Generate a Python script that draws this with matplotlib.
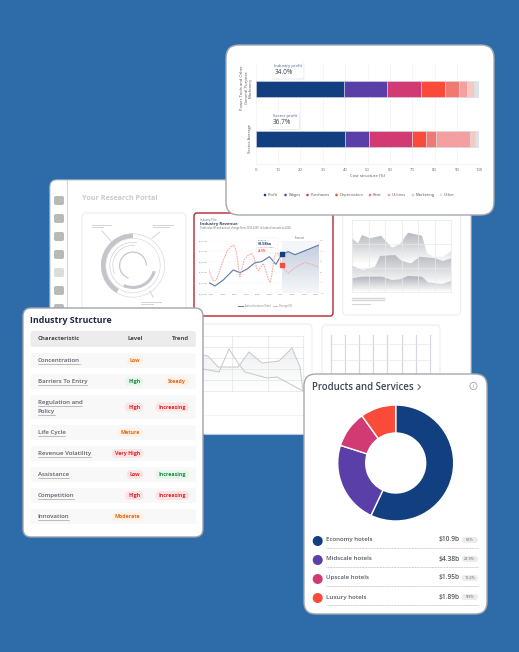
import matplotlib
matplotlib.use("Agg")
import matplotlib.pyplot as plt
import numpy as np
from matplotlib.patches import FancyBboxPatch, Polygon, Wedge, Circle

plt.rcParams['font.family'] = ['Open Sans', 'DejaVu Sans']

W, H = 519, 652

# --- data ---
NAVY, PURPLE, MAGENTA, RED = '#123f7f', '#5a3fa8', '#d13a72', '#f94a3a'
cost_names = ['Profit', 'Wages', 'Purchases', 'Depreciation', 'Rent', 'Utilities', 'Marketing', 'Other']
cost_colors = [NAVY, PURPLE, MAGENTA, RED, '#f07a72', '#f4a0a0', '#f8c8bc', '#dbe2e8']
cost_industry = [39.7, 19.2, 15.0, 10.6, 6.2, 4.0, 3.0, 1.8]
cost_sector = [39.8, 10.8, 19.4, 6.0, 4.5, 15.2, 2.6, 1.7]
cost_rows = ['Sector Average', 'Power Tools and Other\nGeneral Purpose\nMachinery']

product_names = ['Economy hotels', 'Midscale hotels', 'Upscale hotels', 'Luxury hotels']
product_values = [10.9, 4.38, 1.95, 1.89]
product_labels = ['$10.9b', '$4.38b', '$1.95b', '$1.89b']
product_shares = ['57%', '22.9%', '10.2%', '9.9%']
product_colors = [NAVY, PURPLE, MAGENTA, RED]

table_names = ['Concentration', 'Barriers To Entry', 'Regulation and\nPolicy', 'Life Cycle',
               'Revenue Volatility', 'Assistance', 'Competition', 'Innovation']
table_levels = ['Low', 'High', 'High', 'Mature', 'Very High', 'Low', 'High', 'Moderate']
table_level_tones = ['o', 'g', 'r', 'o', 'r', 'r', 'r', 'o']
table_trends = ['', 'Steady', 'Increasing', '', '', 'Increasing', 'Increasing', '']
table_trend_tones = ['', 'o', 'r', '', '', 'g', 'r', '']
table_tops = [353, 374, 395, 425, 446, 467, 488, 509]
table_bottoms = [368, 389, 419, 440, 461, 482, 503, 524]

rev_years = [2020.77, 2021.29, 2022.01, 2022.87, 2023.45, 2024.03, 2024.75, 2025.32, 2025.99, 2026.56,
             2027.05, 2027.62, 2028.2, 2028.93, 2030.28]
rev_values = [1101, 1070, 1127, 1222, 1196, 1228, 1291, 1301, 1348, 1275, 1370, 1396, 1367, 1399, 1459]
chg_years = [2020.77, 2020.91, 2021.14, 2021.37, 2021.66, 2022.01, 2022.35, 2022.73, 2022.96, 2023.16, 2023.33,
             2023.45, 2023.59, 2023.80, 2024.08, 2024.46, 2024.69, 2024.89, 2025.06, 2025.27, 2025.47, 2025.67,
             2025.90, 2026.07, 2026.22, 2026.39, 2026.56, 2026.79, 2027.05, 2027.31, 2027.63, 2028.0, 2028.35,
             2029.07, 2029.65, 2030.28]
chg_values = [1.1, -1.3, -4.0, -4.0, 0.3, 5.8, 10.3, 12.5, 12.9, 9.0, 1.9,
              -2.1, 1.1, 5.8, 7.7, 9.0, 6.6, 1.9, 0.8, 2.7, 4.2, 1.1,
              -3.7, -4.9, -0.5, 6.6, 9.0, 8.7, 3.4, 1.1, -0.5, 1.4, 2.7,
              4.6, 3.8, 2.2]
rev_ticks = [1000, 1100, 1200, 1300, 1400, 1500]
rev_ticklabels = ['$1,000m', '$1,100m', '$1,200m', '$1,300m', '$1,400m', '$1,500m']
chg_ticks = [-10, -5, 0, 5, 10, 15]
chg_ticklabels = ['-10%', '-5%', '0%', '5%', '10%', '15%']
year_ticks = [2021, 2022, 2023, 2024, 2025, 2026, 2027, 2028, 2029, 2030]

area_top = [(352, 238.3), (358, 243.3), (362, 235), (370, 238.3), (381, 235.7), (392, 247.7), (400, 244.3),
            (408, 232.7), (422, 235.7), (427, 253.3), (433, 256.7), (443, 256.7), (451, 251)]
area_mid = [(352, 265.7), (363, 270), (375, 266.7), (380, 256), (395, 255), (402, 261), (411, 263.3),
            (420, 256.7), (435, 258.3), (443, 261), (451, 258.3)]
area_low = [(352, 278.3), (362, 276.7), (382, 276.7), (392, 280), (400, 279.3), (408, 276), (422, 276.7),
            (428, 282.3), (442, 284), (451, 281)]
thumb_line_a = [(203, 369), (219, 372), (229, 349), (238, 363), (245, 372), (267, 378), (277, 377), (303, 391)]
thumb_line_b = [(203, 355), (208, 356), (218, 367), (238, 367), (249, 352), (262, 363), (279, 361), (292, 348),
                (300, 367), (303, 391)]

fig = plt.figure(figsize=(W / 100, H / 100), dpi=100, facecolor='#2e6ca9')


def layer(z):
    ax = fig.add_axes([0, 0, 1, 1], zorder=z)
    ax.set_xlim(0, W)
    ax.set_ylim(H, 0)
    ax.axis('off')
    return ax


def inset(x0, y0, x1, y1, z):
    return fig.add_axes([x0 / W, 1 - y1 / H, (x1 - x0) / W, (y1 - y0) / H], zorder=z)


def rbox(ax, x0, y0, x1, y1, r, fc='white', ec='none', lw=0.8, z=1):
    p = FancyBboxPatch((x0, y0), x1 - x0, y1 - y0, boxstyle=f'round,pad=0,rounding_size={r}',
                       fc=fc, ec=ec, lw=lw, zorder=z)
    ax.add_patch(p)
    return p


def grad_fill(ax, pts, base_y, top_col, z):
    # polygon filled with a vertical gradient that fades to white
    poly = Polygon(pts + [(pts[-1][0], base_y), (pts[0][0], base_y)], closed=True, fc='none', ec='none')
    ax.add_patch(poly)
    c = np.array(matplotlib.colors.to_rgb(top_col))
    ymin = min(p[1] for p in pts)
    t = np.linspace(0, 1, 64)[:, None, None]
    img = c * (1 - t) + np.array([1, 1, 1]) * t
    im = ax.imshow(img, extent=(pts[0][0], pts[-1][0], base_y, ymin), aspect='auto', zorder=z)
    im.set_clip_path(poly)
    ax.set_xlim(0, W)
    ax.set_ylim(H, 0)


def ring(ax, cx, cy, r, a0, a1, width, col, z=4):
    # y axis is flipped here, so angles are mirrored to read counter-clockwise
    ax.add_patch(Wedge((cx, cy), r, -a1, -a0, width=width, fc=col, ec='none', zorder=z))


# --- portal card behind everything ---
back = layer(0)
rbox(back, 50, 180, 471, 434, 7, ec='#c4c7cc', z=1)
back.plot([67, 67], [181, 433], color='#d4d6da', lw=0.8, zorder=2)
for i, y in enumerate(range(196, 320, 18)):
    rbox(back, 54, y, 64, y + 9, 2, fc='#dcdcdc' if i == 4 else '#b9b9b9', z=2)
back.text(82.5, 198, 'Your Research Portal', fontsize=5.2, weight='bold', color='#c8cacc', va='center', zorder=2)

# radial thumbnail
rbox(back, 82, 213, 186, 330, 4, ec='#eeeeee', z=2)
cx, cy = 133, 265.5
ring(back, cx, cy, 32, 0, 360, 0.6, '#d3d5d8')
ring(back, cx, cy, 27.5, 0, 360, 0.6, '#d3d5d8')
ring(back, cx, cy, 32, 90, 239, 4.5, '#c3c5c9')
ring(back, cx, cy, 23.5, 80, 250, 0.6, '#c8cacd')
ring(back, cx, cy, 20.5, 85, 205, 0.6, '#c8cacd')
ring(back, cx, cy, 23.5, -115, -15, 3, '#c3c5c9')
ring(back, cx, cy, 14, -100, 0, 0, '#c3c5c9')
ring(back, cx, cy, 14, 0, 250, 1.2, '#c3c5c9')
for xs, ys in [([92, 111], [225, 225]), ([92, 103], [227, 227]), ([153, 173], [225, 225]), ([153, 169], [227, 227]),
               ([141, 161], [302, 302]), ([141, 153], [304, 304]), ([102, 111], [231, 241]), ([160, 152], [232, 238]),
               ([150, 153], [291, 297])]:
    back.plot(xs, ys, color='#d2d4d8', lw=0.7, zorder=3)

# red bordered card
rbox(back, 194, 213, 333, 316, 3, ec='#b8232c', lw=1.0, z=2)

# gray area thumbnail
rbox(back, 342.7, 190, 460.7, 315, 4, ec='#eeeeee', z=2)
for layer_pts, base, col in [(area_top, 264, '#b6b9bf'), (area_mid, 285, '#b9bbc1'), (area_low, 292, '#b0b3ba')]:
    grad_fill(back, layer_pts, base, col, 3)
for x in np.linspace(352, 451, 7):
    back.plot([x, x], [220, 292], color='#e8e9eb', lw=0.5, zorder=4)
for y in np.linspace(220, 292, 4):
    back.plot([352, 451], [y, y], color='#e8e9eb', lw=0.5, zorder=4)
for y, x1, lw in [(297.7, 384, 1.0), (300, 384, 1.0), (304, 370, 0.8)]:
    back.plot([352, x1], [y, y], color='#d5d7da', lw=lw, zorder=4)

# lower-centre line thumbnail
rbox(back, 202, 324, 312, 434, 4, ec='#eeeeee', z=2)
grad_fill(back, thumb_line_b, 391, '#eef0f2', 3)
for x in [232, 268, 303]:
    back.plot([x, x], [336, 391], color='#e3e4e6', lw=0.5, zorder=4)
for y in np.linspace(336, 391, 6):
    back.plot([203, 303], [y, y], color='#e3e4e6', lw=0.5, zorder=4)
back.plot([203, 303], [415, 415], color='#eeeff0', lw=0.5, zorder=4)
for pts in (thumb_line_a, thumb_line_b):
    back.plot([p[0] for p in pts], [p[1] for p in pts], color='#c5c7ca', lw=0.7, zorder=5)

# lower-right grid thumbnail
rbox(back, 322, 325, 440, 434, 4, ec='#eeeeee', z=2)
for x in np.linspace(330.5, 430, 8):
    back.plot([x, x], [335, 374], color='#d8d8e2', lw=0.9, zorder=3)
for y in [344, 360]:
    back.plot([330, 431], [y, y], color='#e6e7e9', lw=0.5, zorder=3)

# --- revenue mini chart ---
rv = inset(209, 240.7, 319, 293.3, 1)
rv.patch.set_alpha(0)
x_lo, x_hi = rev_years[0], rev_years[-1]
fc_start = rev_years[10]
rv.axvspan(fc_start, x_hi, color='#f3f5f9', lw=0, zorder=0)
fc_poly = Polygon(list(zip(rev_years[10:], rev_values[10:])) + [(x_hi, 1000), (fc_start, 1000)], closed=True,
                  fc='none', ec='none')
rv.add_patch(fc_poly)
ramp = np.linspace(0, 1, 64)[:, None, None]
fc_img = np.array(matplotlib.colors.to_rgb('#c3cede')) * (1 - ramp) + np.array(matplotlib.colors.to_rgb('#f6f7fa')) * ramp
im = rv.imshow(fc_img, extent=(fc_start, x_hi, 1000, 1460), aspect='auto', zorder=1)
im.set_clip_path(fc_poly)
rv.set_xlim(x_lo, x_hi)
rv.set_ylim(1000, 1500)
rv.plot(rev_years, rev_values, color='#5f78a8', lw=0.8, zorder=3)
rv.scatter([fc_start], [rev_values[10]], s=5, color=NAVY, marker='s', zorder=5)
rv.set_xticks(year_ticks)
rv.set_xticklabels([str(y) for y in year_ticks], fontsize=1.7, color='#777777')
rv.set_yticks(rev_ticks)
rv.set_yticklabels(rev_ticklabels, fontsize=1.5, color='#777777')
rv.tick_params(length=0, pad=0.8)
rv.grid(axis='y', color='#f1f1f1', lw=0.3)
rv.set_axisbelow(True)
for s in rv.spines.values():
    s.set_visible(False)
rc = rv.twinx()
rc.patch.set_alpha(0)
rc.set_ylim(-10, 15)
rc.plot(chg_years, chg_values, color='#f5aba8', lw=0.8, ls=(0, (1.5, 0.8)), zorder=3)
rc.scatter([fc_start], [chg_values[28]], s=5, color=RED, marker='s', zorder=5)
rc.set_yticks(chg_ticks)
rc.set_yticklabels(chg_ticklabels, fontsize=1.5, color='#e88b88')
rc.tick_params(length=0, pad=0.8)
for s in rc.spines.values():
    s.set_visible(False)

# --- top layer cards ---
top = layer(2)
rv_note = layer(1.5)
rv_note.patch.set_alpha(0)
rv_note.text(200, 220, 'Industry Title', fontsize=1.9, color='#666666', va='center')
rv_note.text(200, 224.5, 'Industry Revenue', fontsize=3.1, weight='bold', color='#33415c', va='center')
rv_note.text(200, 228.3, 'Total value ($) and annual change from 2013-2030. Includes forecasts to 2030.',
             fontsize=1.8, color='#666666', va='center')
rv_note.text(300, 238.3, 'Forecast', fontsize=1.8, color='#666666', va='center', ha='center')
rbox(rv_note, 256.7, 238, 278, 253, 1, ec='#eeeeee', lw=0.4, z=3)
rv_note.text(258, 240.5, 'Revenue', fontsize=1.6, color='#48618f', va='center', zorder=4)
rv_note.text(258, 243.8, '$3.58bn', fontsize=2.6, weight='bold', color=NAVY, va='center', zorder=4)
rv_note.text(258, 247.7, 'Annual change', fontsize=1.6, color='#e06666', va='center', zorder=4)
rv_note.text(258, 250.7, '+8.6%', fontsize=2.1, weight='bold', color=RED, va='center', zorder=4)
rv_note.plot([238, 243], [306, 306], color='#5f78a8', lw=0.7)
rv_note.text(245, 306, 'Annual revenue ($bn)', fontsize=1.8, color='#777777', va='center')
rv_note.plot([273, 277], [306, 306], color='#f5aba8', lw=0.7)
rv_note.text(279, 306, 'Change (%)', fontsize=1.8, color='#777777', va='center')

# bar card
rbox(top, 226, 45, 494, 215, 13, ec='#a4a8ae', lw=1.0, z=1)
bx = inset(255.7, 63, 479.3, 164, 3)
bx.patch.set_alpha(0)
ypos = [0, 1]
left = np.zeros(2)
for i, name in enumerate(cost_names):
    vals = np.array([cost_sector[i], cost_industry[i]])
    bx.barh(ypos, vals, left=left, height=0.32, color=cost_colors[i], edgecolor='#d5d9e4', lw=0.4, zorder=3)
    left += vals
bx.set_xlim(0, 100)
bx.set_ylim(-0.49, 1.518)
bx.set_xticks(range(0, 101, 10))
bx.tick_params(axis='x', labelsize=3.0, colors='#666666', length=0, pad=3)
bx.set_yticks([])
bx.grid(axis='x', color='#f2f2f2', lw=0.5)
bx.set_axisbelow(True)
for s in bx.spines.values():
    s.set_visible(False)
bx.spines['bottom'].set_visible(True)
bx.spines['bottom'].set_color('#eeeeee')
bx.spines['bottom'].set_linewidth(0.5)

bar_notes = layer(4)
bar_notes.patch.set_alpha(0)
bar_notes.text(367, 175.7, 'Cost structure (%)', fontsize=3.1, color='#555555', ha='center', va='center')
bar_notes.text(250, 138, cost_rows[0], fontsize=3.0, color='#555555', rotation=90, ha='center', va='center')
bar_notes.text(246.7, 87.7, cost_rows[1], fontsize=3.0, color='#555555', rotation=90, ha='center', va='center',
               linespacing=1.1)
for (x0, y0, x1, y1), lab, pct in [((271, 61, 303.7, 78.7), 'Industry profit', '34.0%'),
                                   ((269.3, 111, 299.3, 129), 'Sector profit', '36.7%')]:
    rbox(bar_notes, x0 + 0.5, y0 + 0.7, x1 + 0.5, y1 + 0.7, 1.5, fc='#dddfe3', z=2)
    rbox(bar_notes, x0, y0, x1, y1, 1.5, z=3)
    bar_notes.text(x0 + 3.5, y0 + 5.5, lab, fontsize=3.0, color='#3f5f95', va='center', zorder=4)
    bar_notes.text(x0 + 3.5, y0 + 12, pct, fontsize=4.7, color='#3a4252', va='center', zorder=4)
legend_x = [265, 285.5, 307.5, 336.5, 370, 389, 413, 441]
for x, name, col in zip(legend_x, cost_names, cost_colors):
    bar_notes.add_patch(Circle((x, 195), 1.3, fc=col, ec='none'))
    bar_notes.text(x + 3, 195, name, fontsize=2.9, color='#555555', va='center')

# table card
tones = {'o': ('#fff1e3', '#d9691e'), 'g': ('#e6f6ea', '#1c8a45'), 'r': ('#fde3e3', '#d8262c')}
rbox(top, 23, 308, 203, 537, 8, ec='#9ea3ab', lw=1.0, z=1)
top.text(30.5, 320.5, 'Industry Structure', fontsize=6.4, weight='bold', color='#1d2a3f', va='center', zorder=2)
rbox(top, 30.5, 331, 195.7, 347, 2, fc='#ececec', z=2)
top.text(37.5, 339, 'Characteristic', fontsize=4.3, weight='bold', color='#4a4a4a', va='center', zorder=3)
top.text(143.3, 339, 'Level', fontsize=4.3, weight='bold', color='#4a4a4a', va='center', ha='right', zorder=3)
top.text(189, 339, 'Trend', fontsize=4.3, weight='bold', color='#4a4a4a', va='center', ha='right', zorder=3)
rend = fig.canvas.get_renderer()


def pill(ax, xr, yc, label, tone, fs=3.8, h=9):
    bg, fg = tones[tone]
    t = ax.text(xr - 3, yc, label, fontsize=fs, weight='bold', color=fg, ha='right', va='center', zorder=4)
    w = t.get_window_extent(rend).width
    rbox(ax, xr - w - 6, yc - h / 2, xr, yc + h / 2, h / 2, fc=bg, z=3)


for i, name in enumerate(table_names):
    y0, y1 = table_tops[i], table_bottoms[i]
    yc = (y0 + y1) / 2
    rbox(top, 30.5, y0, 195.7, y1, 2, fc='#f8f8f8', z=2)
    lines = name.split('\n')
    ly = [yc] if len(lines) == 1 else [yc - 4.5, yc + 4.5]
    for line, y in zip(lines, ly):
        t = top.text(37.5, y, line, fontsize=4.4, color='#5a5f68', weight='semibold', va='center', zorder=3)
        w = t.get_window_extent(rend).width
        top.plot([37.5, 37.5 + w], [y + 3.1, y + 3.1], color='#8b8f96', lw=0.4, zorder=3)
    pill(top, 143.3, yc, table_levels[i], table_level_tones[i])
    if table_trends[i]:
        pill(top, 189, yc, table_trends[i], table_trend_tones[i])

# products card
rbox(top, 304, 374, 487, 614, 12, ec='#a4a8ae', lw=1.0, z=1)
top.text(312.5, 387, 'Products and Services', fontsize=6.9, weight='semibold', color='#3d4657', va='center', zorder=2)
top.plot([418, 420.5, 418], [384.5, 387, 389.5], color='#3d4657', lw=0.6, zorder=2)
top.add_patch(Circle((473.5, 386), 3.6, fc='none', ec='#8d9198', lw=0.5, zorder=2))
top.text(473.5, 386, 'i', fontsize=3.5, color='#8d9198', ha='center', va='center', zorder=2)

dn = inset(395.7 - 60, 463 - 60, 395.7 + 60, 463 + 60, 3)
dn.patch.set_alpha(0)
dn.pie(product_values, colors=product_colors, startangle=90, counterclock=False, radius=58 / 60,
       wedgeprops=dict(width=28 / 60, edgecolor='white', linewidth=1.0))
dn.set_xlim(-1, 1)
dn.set_ylim(-1, 1)

for i, name in enumerate(product_names):
    y = 541 + i * 19
    top.add_patch(Circle((317.7, y), 5, fc=product_colors[i], ec='none', zorder=2))
    top.text(326, y - 1, name, fontsize=4.4, weight='semibold', color='#555a63', va='center', zorder=2)
    top.text(460, y - 1, product_labels[i], fontsize=4.8, weight='semibold', color='#555a63', va='center', ha='right', zorder=2)
    rbox(top, 461.5, y - 4, 478, y + 2, 3, fc='#ececec', z=2)
    top.text(469.7, y - 1, product_shares[i], fontsize=2.8, color='#555a63', va='center', ha='center', zorder=3)
    top.plot([326, 478], [y + 6.5, y + 6.5], color='#a8abb0', lw=0.5, ls=(0, (1.2, 1)), zorder=2)

fig.savefig('out.png', dpi=100, facecolor=fig.get_facecolor())
